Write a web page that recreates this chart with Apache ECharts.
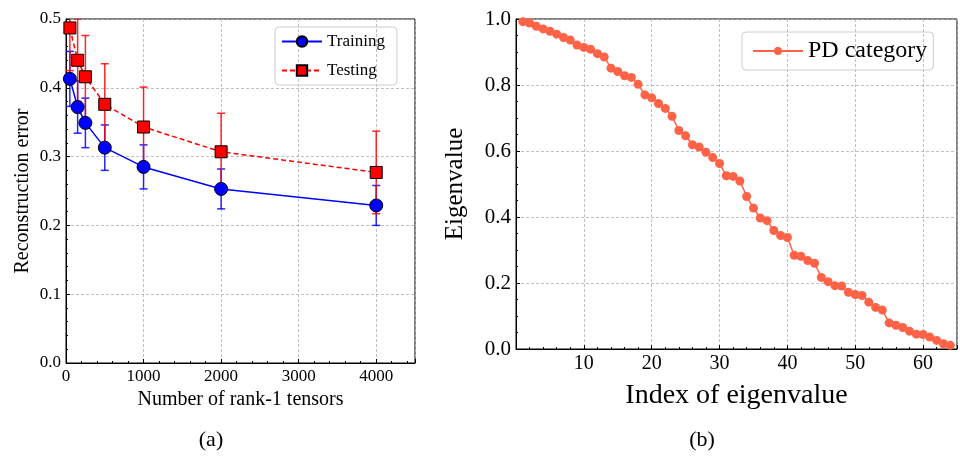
<!DOCTYPE html>
<html>
<head>
<meta charset="utf-8">
<script src="https://cdn.jsdelivr.net/npm/echarts@6/dist/echarts.min.js"></script>
<style>
  html, body { margin: 0; padding: 0; background: #fff; }
  #container { width: 960px; height: 457px; }
</style>
</head>
<body>
<div id="container"></div>
<script>
var myChart = echarts.init(document.getElementById('container'));

// (a) reconstruction error vs number of rank-1 tensors
var rankX = [50, 150, 250, 500, 1000, 2000, 4000];
var trainMean = [0.413, 0.372, 0.349, 0.313, 0.285, 0.253, 0.229];
var trainErr = [0.040, 0.038, 0.036, 0.033, 0.032, 0.029, 0.029];
var testMean = [0.487, 0.440, 0.416, 0.376, 0.343, 0.307, 0.277];
var testErr = [0.062, 0.060, 0.060, 0.059, 0.058, 0.056, 0.060];

// (b) eigenvalues, index 1..64
var eigen = [
  0.992, 0.988, 0.978, 0.970, 0.963, 0.954, 0.944, 0.936, 0.921, 0.914,
  0.908, 0.895, 0.885, 0.851, 0.841, 0.828, 0.823, 0.802, 0.770, 0.761,
  0.744, 0.729, 0.705, 0.662, 0.646, 0.619, 0.612, 0.596, 0.580, 0.562,
  0.525, 0.523, 0.509, 0.462, 0.427, 0.397, 0.389, 0.359, 0.344, 0.338,
  0.284, 0.281, 0.268, 0.260, 0.217, 0.204, 0.192, 0.191, 0.172, 0.165,
  0.162, 0.142, 0.126, 0.118, 0.079, 0.072, 0.065, 0.054, 0.045, 0.044,
  0.036, 0.026, 0.016, 0.011
];

var font = 'Liberation Serif';
var gridLine = { show: true, lineStyle: { color: '#b0b0b0', type: [3, 2], width: 0.8 } };

function errData(mean, err) {
  return rankX.map(function (x, i) {
    return [x, mean[i] - err[i], mean[i] + err[i]];
  });
}

function errorBars(color) {
  return function (params, api) {
    var x = api.value(0);
    var top = api.coord([x, api.value(2)]);
    var bot = api.coord([x, api.value(1)]);
    var hw = 4;
    var st = { stroke: color, lineWidth: 1.5, opacity: 0.85 };
    return {
      type: 'group',
      children: [
        { type: 'line', shape: { x1: top[0], y1: top[1], x2: bot[0], y2: bot[1] }, style: st },
        { type: 'line', shape: { x1: top[0] - hw, y1: top[1], x2: top[0] + hw, y2: top[1] }, style: st },
        { type: 'line', shape: { x1: bot[0] - hw, y1: bot[1], x2: bot[0] + hw, y2: bot[1] }, style: st }
      ]
    };
  };
}

var option = {
  animation: false,
  backgroundColor: '#fff',
  textStyle: { fontFamily: font, color: '#000' },
  title: [
    { text: '(a)', left: 206, top: 424, textAlign: 'center',
      textStyle: { fontFamily: font, fontWeight: 'normal', fontSize: 22, color: '#000' } },
    { text: '(b)', left: 697, top: 424, textAlign: 'center',
      textStyle: { fontFamily: font, fontWeight: 'normal', fontSize: 22, color: '#000' } }
  ],
  legend: [
    {
      data: ['Training', 'Testing'],
      orient: 'vertical',
      left: 275, top: 27,
      itemWidth: 40, itemHeight: 13, itemGap: 12,
      padding: [6, 12, 6, 6],
      borderColor: '#ccc', borderWidth: 1, borderRadius: 4,
      textStyle: { fontFamily: font, fontSize: 17, color: '#000' }
    },
    {
      data: ['PD category'],
      left: 742, top: 32,
      itemWidth: 50, itemHeight: 10, itemGap: 10,
      padding: [7, 6, 7, 10],
      borderColor: '#ccc', borderWidth: 1, borderRadius: 4,
      textStyle: { fontFamily: font, fontSize: 24, color: '#000' }
    }
  ],
  grid: [
    { left: 66, top: 19, width: 349, height: 344, show: true, borderColor: '#000', borderWidth: 1 },
    { left: 516, top: 19, width: 442, height: 330, show: true, borderColor: '#000', borderWidth: 1 }
  ],
  xAxis: [
    {
      gridIndex: 0, type: 'value', min: 0, max: 4500, interval: 1000,
      name: 'Number of rank-1 tensors', nameLocation: 'middle', nameGap: 25,
      nameTextStyle: { fontFamily: font, fontSize: 20, color: '#000' },
      axisLine: { lineStyle: { color: '#000' } },
      axisTick: { inside: true, length: 4, lineStyle: { color: '#000' } },
      minorTick: { show: true, splitNumber: 5, length: 2, lineStyle: { color: '#000' } },
      axisLabel: { fontFamily: font, fontSize: 17, color: '#000', margin: 5,
        formatter: function (v) { return v === 4500 ? '' : String(v); } },
      splitLine: gridLine
    },
    {
      gridIndex: 1, type: 'value', min: 0, max: 65, interval: 10,
      name: 'Index of eigenvalue', nameLocation: 'middle', nameGap: 33,
      nameTextStyle: { fontFamily: font, fontSize: 28, color: '#000' },
      axisLine: { lineStyle: { color: '#000' } },
      axisTick: { inside: true, length: 4, lineStyle: { color: '#000' } },
      minorTick: { show: true, splitNumber: 5, length: 2, lineStyle: { color: '#000' } },
      axisLabel: { fontFamily: font, fontSize: 20, color: '#000', margin: 5,
        formatter: function (v) { return (v === 0 || v === 65) ? '' : String(v); } },
      splitLine: gridLine
    }
  ],
  yAxis: [
    {
      gridIndex: 0, type: 'value', min: 0, max: 0.5, interval: 0.1,
      name: 'Reconstruction error', nameLocation: 'middle', nameGap: 33,
      nameTextStyle: { fontFamily: font, fontSize: 20, color: '#000' },
      axisLine: { show: true, lineStyle: { color: '#000' } },
      axisTick: { show: true, inside: true, length: 4, lineStyle: { color: '#000' } },
      minorTick: { show: true, splitNumber: 5, length: 2, lineStyle: { color: '#000' } },
      axisLabel: { fontFamily: font, fontSize: 17, color: '#000', margin: 5,
        formatter: function (v) { return v.toFixed(1); } },
      splitLine: gridLine
    },
    {
      gridIndex: 1, type: 'value', min: 0, max: 1, interval: 0.2,
      name: 'Eigenvalue', nameLocation: 'middle', nameGap: 48,
      nameTextStyle: { fontFamily: font, fontSize: 25, color: '#000' },
      axisLine: { show: true, lineStyle: { color: '#000' } },
      axisTick: { show: true, inside: true, length: 4, lineStyle: { color: '#000' } },
      minorTick: { show: true, splitNumber: 4, length: 2, lineStyle: { color: '#000' } },
      axisLabel: { fontFamily: font, fontSize: 21, color: '#000', margin: 5,
        formatter: function (v) { return v.toFixed(1); } },
      splitLine: gridLine
    }
  ],
  series: [
    {
      name: 'TrainingErr', type: 'custom', xAxisIndex: 0, yAxisIndex: 0,
      renderItem: errorBars('#0000ff'), clip: true, z: 2,
      encode: { x: 0, y: [1, 2] },
      data: errData(trainMean, trainErr)
    },
    {
      name: 'TestingErr', type: 'custom', xAxisIndex: 0, yAxisIndex: 0,
      renderItem: errorBars('#ff0000'), clip: true, z: 2,
      encode: { x: 0, y: [1, 2] },
      data: errData(testMean, testErr)
    },
    {
      name: 'Training', type: 'line', xAxisIndex: 0, yAxisIndex: 0, z: 3,
      data: rankX.map(function (x, i) { return [x, trainMean[i]]; }),
      symbol: 'circle', symbolSize: 13,
      color: '#0000ff',
      lineStyle: { color: '#0000ff', width: 1.5 },
      itemStyle: { color: '#0000ff', borderColor: '#000', borderWidth: 1 }
    },
    {
      name: 'Testing', type: 'line', xAxisIndex: 0, yAxisIndex: 0, z: 4,
      data: rankX.map(function (x, i) { return [x, testMean[i]]; }),
      symbol: 'rect', symbolSize: 12,
      color: '#ff0000',
      lineStyle: { color: '#ff0000', width: 1.5, type: [5, 3] },
      itemStyle: { color: '#ff0000', borderColor: '#000', borderWidth: 1 }
    },
    {
      name: 'PD category', type: 'line', xAxisIndex: 1, yAxisIndex: 1,
      data: eigen.map(function (v, i) { return [i + 1, v]; }),
      symbol: 'circle', symbolSize: 9,
      color: '#ff6347',
      lineStyle: { color: '#ff6347', width: 1.5 },
      itemStyle: { color: '#ff6347' }
    }
  ]
};

myChart.setOption(option);
</script>
</body>
</html>
